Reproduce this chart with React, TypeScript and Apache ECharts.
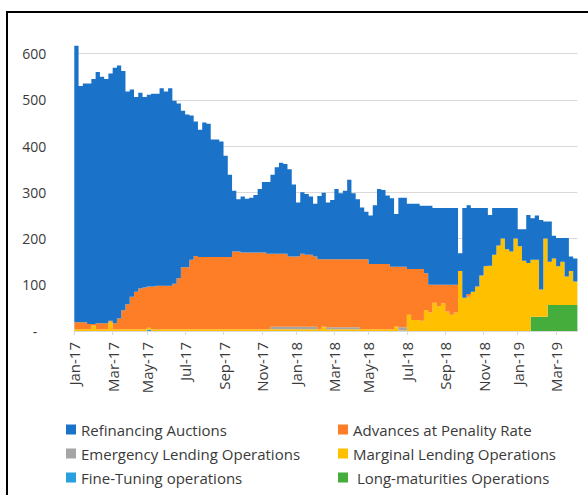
import React, { useEffect, useRef } from "react";
import * as echarts from "echarts";

// Weekly observations, first week starting 2016-12-31
const START_DATE = "2016-12-31";

const TICK_LABELS = [
  "Jan-17", "Mar-17", "May-17", "Jul-17", "Sep-17", "Nov-17",
  "Jan-18", "Mar-18", "May-18", "Jul-18", "Sep-18", "Nov-18",
  "Jan-19", "Mar-19",
];

const Y_TICKS = [0, 100, 200, 300, 400, 500, 600];

const REFINANCING = [
  598, 511, 516, 520, 530, 543, 533, 528, 535, 552,
  547, 517, 460, 448, 421, 423, 412, 415, 417, 415,
  427, 420, 427, 396, 378, 338, 330, 312, 291, 275,
  291, 288, 254, 254, 250, 219, 178, 131, 113, 121,
  116, 118, 124, 137, 152, 155, 171, 187, 197, 194,
  189, 156, 117, 133, 131, 126, 114, 137, 144, 123,
  128, 152, 143, 148, 172, 143, 130, 112, 103, 105,
  127, 162, 160, 148, 148, 114, 149, 149, 141, 141,
  141, 137, 146, 171, 166, 166, 166, 166, 166, 166,
  38, 194, 192, 181, 170, 146, 126, 110, 101, 81,
  66, 89, 94, 66, 37, 68, 104, 90, 96, 150,
  37, 87, 49, 61, 51, 83, 31, 50,
];

const ADVANCES = [
  15, 15, 15, 11, 3, 13, 13, 13, 2, 13,
  23, 41, 54, 70, 81, 88, 90, 89, 92, 94,
  94, 94, 94, 98, 110, 134, 134, 150, 158, 156,
  156, 156, 156, 156, 156, 156, 156, 168, 168, 166,
  166, 166, 166, 166, 166, 163, 158, 158, 158, 158,
  152, 152, 152, 158, 156, 156, 152, 151, 145, 147,
  147, 147, 147, 147, 147, 147, 147, 151, 151, 141,
  141, 141, 141, 141, 135, 129, 131, 131, 99, 110,
  110, 112, 80, 60, 39, 47, 40, 58, 65, 60,
  0, 0, 6, 0, 0, 0, 0, 0, 0, 0,
  0, 0, 0, 0, 0, 0, 0, 0, 0, 0,
  0, 0, 0, 0, 0, 0, 0, 0,
];

const EMERGENCY = [
  0, 0, 0, 0, 0, 0, 0, 0, 0, 0,
  0, 0, 0, 0, 0, 0, 0, 0, 0, 0,
  0, 0, 0, 0, 0, 0, 0, 0, 0, 0,
  0, 0, 0, 0, 0, 0, 0, 0, 0, 0,
  0, 0, 0, 0, 0, 0, 5, 5, 5, 5,
  5, 5, 5, 5, 5, 5, 5, 0, 0, 4,
  4, 4, 4, 4, 4, 4, 4, 0, 0, 0,
  0, 0, 0, 0, 0, 0, 7, 7, 0, 0,
  0, 0, 0, 0, 0, 0, 0, 0, 0, 0,
  0, 0, 0, 0, 0, 0, 0, 0, 0, 0,
  0, 0, 0, 0, 0, 0, 0, 0, 0, 0,
  0, 0, 0, 0, 0, 0, 0, 0,
];

const MARGINAL = [
  4, 4, 4, 4, 12, 4, 4, 4, 20, 4,
  4, 4, 4, 4, 4, 4, 4, 4, 4, 4,
  4, 4, 4, 4, 4, 4, 4, 4, 4, 4,
  4, 4, 4, 4, 4, 4, 4, 4, 4, 4,
  4, 4, 4, 4, 4, 4, 4, 4, 4, 4,
  4, 4, 4, 4, 4, 4, 4, 4, 10, 4,
  4, 4, 4, 4, 4, 4, 4, 4, 4, 4,
  4, 4, 4, 4, 4, 10, 1, 1, 35, 24,
  24, 22, 45, 40, 61, 53, 60, 42, 35, 40,
  130, 72, 74, 85, 96, 120, 140, 141, 165, 185,
  200, 177, 172, 200, 183, 152, 147, 123, 123, 59,
  169, 94, 101, 84, 94, 62, 74, 51,
];

const FINE_TUNING = [
  0, 0, 0, 0, 0, 0, 0, 0, 0, 0,
  0, 0, 0, 0, 0, 0, 0, 3, 0, 0,
  0, 0, 0, 0, 0, 0, 0, 0, 0, 0,
  0, 0, 0, 0, 0, 0, 0, 0, 0, 0,
  0, 0, 0, 0, 0, 0, 0, 0, 0, 0,
  0, 0, 0, 0, 0, 0, 0, 0, 0, 0,
  0, 0, 0, 0, 0, 0, 0, 0, 0, 0,
  0, 0, 0, 0, 0, 0, 0, 0, 0, 0,
  0, 0, 0, 0, 0, 0, 0, 0, 0, 0,
  0, 0, 0, 0, 0, 0, 0, 0, 0, 0,
  0, 0, 0, 0, 0, 0, 0, 0, 0, 0,
  0, 0, 0, 0, 0, 0, 0, 0,
];

const LONG_MATURITIES = [
  0, 0, 0, 0, 0, 0, 0, 0, 0, 0,
  0, 0, 0, 0, 0, 0, 0, 0, 0, 0,
  0, 0, 0, 0, 0, 0, 0, 0, 0, 0,
  0, 0, 0, 0, 0, 0, 0, 0, 0, 0,
  0, 0, 0, 0, 0, 0, 0, 0, 0, 0,
  0, 0, 0, 0, 0, 0, 0, 0, 0, 0,
  0, 0, 0, 0, 0, 0, 0, 0, 0, 0,
  0, 0, 0, 0, 0, 0, 0, 0, 0, 0,
  0, 0, 0, 0, 0, 0, 0, 0, 0, 0,
  0, 0, 0, 0, 0, 0, 0, 0, 0, 0,
  0, 0, 0, 0, 0, 0, 0, 31, 31, 31,
  31, 56, 56, 56, 56, 56, 56, 56,
];

const SERIES_NAMES = {
  refi: "Refinancing Auctions",
  adv: "Advances at Penality Rate",
  emer: "Emergency Lending Operations",
  marg: "Marginal Lending Operations",
  fine: "Fine-Tuning operations",
  long: " Long-maturities Operations",
};

const COLORS = {
  refi: "#1a73c8",
  adv: "#fd7e27",
  emer: "#a5a5a5",
  marg: "#ffc000",
  fine: "#2a9fdf",
  long: "#45ad3c",
};

const FONT = "'Open Sans', 'Noto Sans', sans-serif";
const MONTHS = ["Jan", "Feb", "Mar", "Apr", "May", "Jun", "Jul", "Aug", "Sep", "Oct", "Nov", "Dec"];

export default function App() {
  const ref = useRef<HTMLDivElement>(null);

  useEffect(() => {
    if (!ref.current) return;
    const chart = echarts.init(ref.current, undefined, { renderer: "svg" });

    const WEEK = 7 * 86400000;
    const start = Date.parse(START_DATE + "T00:00:00Z");
    const n = REFINANCING.length + 1; // final boundary point closes the last step
    const cats: string[] = [];
    for (let i = 0; i < n; i++) {
      cats.push(new Date(start + i * WEEK).toISOString().slice(0, 10));
    }
    const labelMap = new Map<number, string>();
    TICK_LABELS.forEach((lab) => {
      const [mon, yy] = lab.split("-");
      const m = MONTHS.indexOf(mon);
      const t = Date.UTC(2000 + Number(yy), m, 1);
      const idx = Math.round((t - start) / WEEK);
      labelMap.set(idx, lab);
    });
    const tickFn = (index: number) => labelMap.has(index);

    const withEnd = (arr: number[]) => [...arr, arr[arr.length - 1]];

    const mk = (key: keyof typeof COLORS, data: number[], clip = true) => ({
      name: SERIES_NAMES[key],
      type: "line",
      stack: "total",
      step: "end",
      symbol: "none",
      showSymbol: false,
      clip,
      color: COLORS[key],
      itemStyle: { color: COLORS[key] },
      lineStyle: { width: 0, color: COLORS[key] },
      areaStyle: { color: COLORS[key], opacity: 1 },
      emphasis: { disabled: true },
      data: withEnd(data),
    });

    const legendBase = {
      orient: "vertical",
      icon: "rect",
      itemWidth: 10,
      itemHeight: 10,
      itemGap: 9,
      padding: 0,
      top: 422,
      selectedMode: false,
      textStyle: { fontFamily: FONT, fontSize: 15, color: "#3a3a3a", lineHeight: 15 },
    };

    chart.setOption({
      animation: false,
      backgroundColor: "#ffffff",
      textStyle: { fontFamily: FONT },
      grid: { left: 74.3, right: 10.6, top: 53.5, bottom: 164 },
      xAxis: {
        type: "category",
        boundaryGap: false,
        data: cats,
        axisLine: { show: true, lineStyle: { color: "#d9d9d9", width: 1 } },
        axisTick: { show: true, interval: tickFn, length: 4, lineStyle: { color: "#d9d9d9" } },
        axisLabel: {
          interval: tickFn,
          rotate: 90,
          margin: 11,
          fontFamily: FONT,
          fontSize: 15,
          color: "#3a3a3a",
          formatter: (_v: string, i: number) => labelMap.get(i) ?? "",
        },
        splitLine: { show: false },
      },
      yAxis: {
        type: "value",
        min: Y_TICKS[0],
        max: Y_TICKS[Y_TICKS.length - 1],
        interval: 100,
        axisLine: { show: false },
        axisTick: { show: false },
        splitLine: { show: true, lineStyle: { color: "#d9d9d9", width: 1 } },
        axisLabel: {
          margin: 28,
          fontFamily: FONT,
          fontSize: 14,
          color: "#3a3a3a",
          formatter: (v: number) => (v === 0 ? "{d|-}" : String(v)),
          rich: {
            d: { fontFamily: FONT, fontSize: 14, color: "#3a3a3a", padding: [0, 9, 0, 0] },
          },
        },
      },
      legend: [
        {
          ...legendBase,
          left: 66,
          data: [SERIES_NAMES.refi, SERIES_NAMES.emer, SERIES_NAMES.fine],
        },
        {
          ...legendBase,
          left: 338,
          data: [SERIES_NAMES.adv, SERIES_NAMES.marg, SERIES_NAMES.long],
        },
      ],
      graphic: [
        { type: "line", shape: { x1: 6, y1: 12, x2: 588, y2: 12 }, style: { stroke: "#000", lineWidth: 2 } },
        { type: "line", shape: { x1: 7, y1: 11, x2: 7, y2: 495 }, style: { stroke: "#000", lineWidth: 2 } },
      ],
      series: [
        mk("long", LONG_MATURITIES),
        mk("fine", FINE_TUNING),
        mk("marg", MARGINAL),
        mk("emer", EMERGENCY),
        mk("adv", ADVANCES),
        mk("refi", REFINANCING, false),
      ],
    });

    return () => chart.dispose();
  }, []);

  return (
    <div
      ref={ref}
      style={{ position: "absolute", left: 0, top: 0, width: 588, height: 495, background: "#fff" }}
    />
  );
}
